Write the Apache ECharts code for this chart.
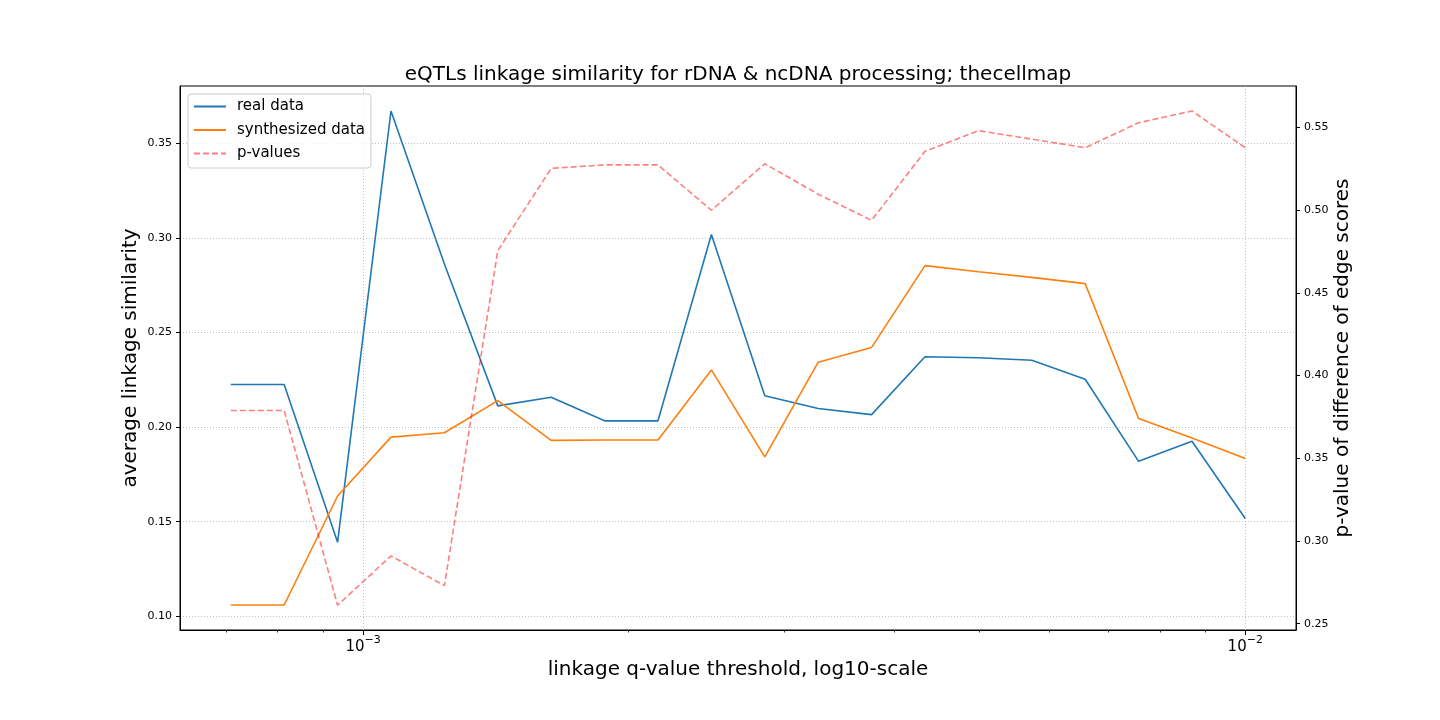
<!DOCTYPE html>
<html><head><meta charset="utf-8">
<script src="https://cdn.jsdelivr.net/npm/echarts@6/dist/echarts.min.js"></script>
<style>html,body{margin:0;padding:0;background:#fff}#c{width:1440px;height:720px}</style>
</head><body><div id="c"></div>
<script>
// linkage q-value thresholds (x, log scale)
const qThresholds = [0.0007079, 0.0008137, 0.0009355, 0.0010754, 0.0012363, 0.0014212, 0.0016337, 0.0018780, 0.0021590, 0.0024819,
                     0.0028531, 0.0032799, 0.0037704, 0.0043343, 0.0049826, 0.0057278, 0.0065845, 0.0075693, 0.0087014, 0.0100000];
const realData  = [0.2225, 0.2225, 0.1392, 0.3670, 0.2862, 0.2112, 0.2158, 0.2033, 0.2033, 0.3017,
                   0.2166, 0.2098, 0.2066, 0.2372, 0.2366, 0.2353, 0.2253, 0.1819, 0.1925, 0.1517];
const synthData = [0.1060, 0.1060, 0.1636, 0.1947, 0.1970, 0.2140, 0.1930, 0.1932, 0.1932, 0.2302,
                   0.1843, 0.2343, 0.2421, 0.2853, 0.2821, 0.2791, 0.2758, 0.2045, 0.1942, 0.1834];
const pValues   = [0.3789, 0.3789, 0.2612, 0.2910, 0.2730, 0.4755, 0.5252, 0.5273, 0.5273, 0.4999,
                   0.5280, 0.5096, 0.4938, 0.5355, 0.5480, 0.5429, 0.5377, 0.5528, 0.5599, 0.5377];

const leftTicks  = [0.10, 0.15, 0.20, 0.25, 0.30, 0.35];
const rightTicks = [0.25, 0.30, 0.35, 0.40, 0.45, 0.50, 0.55];
const xMajorTicks = [0.001, 0.01];
const xMajorExponents = ['\u22123', '\u22122'];
const xMinorTicks = [0.0007, 0.0008, 0.0009, 0.002, 0.003, 0.004, 0.005, 0.006, 0.007, 0.008, 0.009];

const FONT = 'DejaVu Sans';
const chart = echarts.init(document.getElementById('c'), null, {renderer: 'canvas'});

const pairs = ys => qThresholds.map((x, i) => [x, ys[i]]);
const gridDotted = {show: true, lineStyle: {color: '#b0b0b0', width: 0.8, type: [1, 2]}};

const option = {
  animation: false,
  backgroundColor: '#fff',
  textStyle: {fontFamily: FONT, color: '#000'},
  title: {
    text: 'eQTLs linkage similarity for rDNA & ncDNA processing; thecellmap',
    left: 733, top: 60, textAlign: 'center',
    textStyle: {fontFamily: FONT, fontSize: 20, fontWeight: 'normal', color: '#000'}
  },
  grid: {left: 180, right: 144, top: 86, bottom: 90, show: true, borderColor: '#000', borderWidth: 1, backgroundColor: 'transparent'},
  legend: {
    orient: 'vertical', left: 188, top: 94,
    itemWidth: 32, itemHeight: 14, itemGap: 8.5,
    padding: [5, 6, 7, 5],
    backgroundColor: 'rgba(255,255,255,0.8)', borderColor: '#cccccc', borderWidth: 1, borderRadius: 3,
    itemStyle: {opacity: 0},
    textStyle: {fontFamily: FONT, fontSize: 15, color: '#000', padding: [0, 0, 0, 6]},
    data: ['real data', 'synthesized data', 'p-values']
  },
  xAxis: [{
    type: 'log', logBase: 10, min: 6.200e-4, max: 0.011416, position: 'bottom',
    name: 'linkage q-value threshold, log10-scale', nameLocation: 'middle', nameGap: 28,
    nameTextStyle: {fontFamily: FONT, fontSize: 20, color: '#000'},
    axisLine: {show: true, lineStyle: {color: '#000', width: 1}},
    axisTick: {show: true, customValues: xMajorTicks, length: 5, lineStyle: {color: '#000', width: 1}},
    axisLabel: {
      customValues: xMajorTicks, margin: 5, color: '#000',
      formatter: function (v) {
        let best = 0;
        xMajorTicks.forEach((t, i) => { if (Math.abs(Math.log10(t) - Math.log10(v)) < Math.abs(Math.log10(xMajorTicks[best]) - Math.log10(v))) best = i; });
        return '{b|10}{s|' + xMajorExponents[best] + '}';
      },
      rich: {
        b: {fontFamily: FONT, fontSize: 15, color: '#000', lineHeight: 20, verticalAlign: 'bottom'},
        s: {fontFamily: FONT, fontSize: 11, color: '#000', lineHeight: 20, verticalAlign: 'top'}
      }
    },
    splitLine: gridDotted
  }, {
    type: 'log', logBase: 10, min: 6.200e-4, max: 0.011416, position: 'bottom',
    axisLine: {show: false},
    axisTick: {show: true, customValues: xMinorTicks, length: 2.5, lineStyle: {color: '#000', width: 0.8}},
    axisLabel: {show: false},
    splitLine: {show: false}
  }],
  yAxis: [{
    type: 'value', min: 0.0928, max: 0.3802, position: 'left',
    name: 'average linkage similarity', nameLocation: 'middle', nameGap: 39, nameRotate: 90, nameMoveOverlap: false,
    nameTextStyle: {fontFamily: FONT, fontSize: 20, color: '#000'},
    axisLine: {show: true, lineStyle: {color: '#000', width: 1}},
    axisTick: {show: true, customValues: leftTicks, length: 4, lineStyle: {color: '#000'}},
    axisLabel: {customValues: leftTicks, fontSize: 11, color: '#000', margin: 8, formatter: v => v.toFixed(2)},
    splitLine: gridDotted
  }, {
    type: 'value', min: 0.2462, max: 0.5750, position: 'right',
    name: 'p-value of difference of edge scores', nameLocation: 'middle', nameGap: 37, nameRotate: 90, nameMoveOverlap: false,
    nameTextStyle: {fontFamily: FONT, fontSize: 20, color: '#000'},
    axisLine: {show: true, lineStyle: {color: '#000', width: 1}},
    axisTick: {show: true, customValues: rightTicks, length: 4, lineStyle: {color: '#000'}},
    axisLabel: {customValues: rightTicks, fontSize: 11, color: '#000', margin: 8, formatter: v => v.toFixed(2)},
    splitLine: {show: false}
  }],
  series: [{
    name: 'real data', type: 'line', xAxisIndex: 0, yAxisIndex: 0, symbol: 'none',
    data: pairs(realData), color: '#1f77b4', lineStyle: {color: '#1f77b4', width: 1.6}, z: 3
  }, {
    name: 'synthesized data', type: 'line', xAxisIndex: 0, yAxisIndex: 0, symbol: 'none',
    data: pairs(synthData), color: '#ff7f0e', lineStyle: {color: '#ff7f0e', width: 1.6}, z: 3
  }, {
    name: 'p-values', type: 'line', xAxisIndex: 0, yAxisIndex: 1, symbol: 'none',
    data: pairs(pValues), color: 'rgba(255,0,0,0.5)', lineStyle: {color: 'rgba(255,0,0,0.5)', width: 1.6, type: [6, 3]}, z: 3
  }]
};
chart.setOption(option);
</script>
</body></html>
